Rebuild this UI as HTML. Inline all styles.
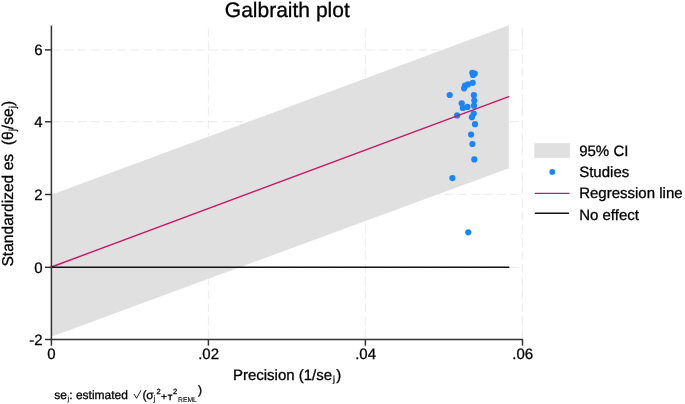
<!DOCTYPE html>
<html><head><meta charset="utf-8"><style>
html,body{margin:0;padding:0;background:#fff;width:685px;height:404px;overflow:hidden}
svg{display:block;will-change:transform;text-rendering:geometricPrecision}
text{font-family:"Liberation Sans",sans-serif;fill:#000;stroke:#000;stroke-width:0.3px}
.s{stroke-width:0.1px}
</style></head><body>
<svg width="685" height="404" viewBox="0 0 685 404">
<rect width="685" height="404" fill="#fff"/>
<!-- gridlines -->
<g stroke="#efefef" stroke-width="1.2" stroke-dasharray="9 4.1" fill="none">
<line x1="51.4" y1="49.9" x2="522.5" y2="49.9"/>
<line x1="51.4" y1="121.6" x2="522.5" y2="121.6"/>
<line x1="51.4" y1="194.4" x2="522.5" y2="194.4"/>
<line x1="51.4" y1="267.3" x2="522.5" y2="267.3"/>
<line x1="208.4" y1="28.2" x2="208.4" y2="339"/>
<line x1="365.4" y1="28.2" x2="365.4" y2="339"/>
<line x1="522.4" y1="28.2" x2="522.4" y2="339"/>
</g>
<!-- CI band -->
<polygon points="51.4,194.8 508.8,25.3 508.8,168.2 51.4,336.7" fill="#e0e0e0"/>
<!-- studies -->
<g fill="#1a85ff">
<circle cx="472.3" cy="72.8" r="3.1"/>
<circle cx="474.8" cy="73.5" r="3.1"/>
<circle cx="473" cy="75" r="3.1"/>
<circle cx="472.7" cy="82.8" r="3.1"/>
<circle cx="467.9" cy="84.4" r="3.1"/>
<circle cx="465" cy="85.5" r="3.1"/>
<circle cx="464.1" cy="88.3" r="3.1"/>
<circle cx="449.7" cy="95" r="3.1"/>
<circle cx="473.9" cy="95.2" r="3.1"/>
<circle cx="474.3" cy="100.6" r="3.1"/>
<circle cx="461.7" cy="103.3" r="3.1"/>
<circle cx="474" cy="105.7" r="3.1"/>
<circle cx="467.5" cy="106.9" r="3.1"/>
<circle cx="462.8" cy="107.9" r="3.1"/>
<circle cx="473.7" cy="113.6" r="3.1"/>
<circle cx="457.1" cy="115.4" r="3.1"/>
<circle cx="471.9" cy="117.2" r="3.1"/>
<circle cx="475" cy="124.2" r="3.1"/>
<circle cx="471.1" cy="134.6" r="3.1"/>
<circle cx="472.4" cy="144" r="3.1"/>
<circle cx="474.3" cy="159.4" r="3.1"/>
<circle cx="452.4" cy="178.1" r="3.1"/>
<circle cx="468.3" cy="232.3" r="3.1"/>
</g>
<!-- regression line -->
<line x1="51.4" y1="267" x2="508.8" y2="96.7" stroke="#c41a62" stroke-width="1.4" stroke-linecap="round"/>
<!-- no effect -->
<line x1="51.4" y1="267.3" x2="508.8" y2="267.3" stroke="#111" stroke-width="1.5" stroke-linecap="round"/>
<!-- axes -->
<g stroke="#333" stroke-width="1.5" fill="none">
<line x1="51.4" y1="25.5" x2="51.4" y2="345.7"/>
<line x1="45" y1="339.4" x2="522.8" y2="339.4"/>
<line x1="45" y1="49.9" x2="51.4" y2="49.9"/>
<line x1="45" y1="121.8" x2="51.4" y2="121.8"/>
<line x1="45" y1="194.5" x2="51.4" y2="194.5"/>
<line x1="45" y1="267.3" x2="51.4" y2="267.3"/>
<line x1="208.4" y1="339.4" x2="208.4" y2="345.7"/>
<line x1="365.4" y1="339.4" x2="365.4" y2="345.7"/>
<line x1="522.5" y1="339.4" x2="522.5" y2="345.7"/>
</g>
<!-- y tick labels -->
<g font-size="15" text-anchor="end">
<text x="42.5" y="55">6</text>
<text x="42.5" y="127.1">4</text>
<text x="42.5" y="199.7">2</text>
<text x="42.5" y="272.5">0</text>
<text x="42.5" y="344.6">-2</text>
</g>
<!-- x tick labels -->
<g font-size="15" text-anchor="middle">
<text x="51.4" y="359">0</text>
<text x="208.6" y="359">.02</text>
<text x="365.6" y="359">.04</text>
<text x="522.8" y="359">.06</text>
</g>
<!-- title -->
<text x="287.3" y="16.5" font-size="21" text-anchor="middle">Galbraith plot</text>
<!-- x title -->
<text x="232.9" y="379.8" font-size="15">Precision (1/se<tspan font-size="8.6" dy="2.3" dx="0.8">j</tspan><tspan dy="-2.3" dx="1.3">)</tspan></text>
<!-- y title -->
<text transform="translate(12.8,266.6) rotate(-90)" font-size="15.6" xml:space="preserve">Standardized es  (θ<tspan font-size="10" dy="3">j</tspan><tspan dy="-3">/se</tspan><tspan font-size="10" dy="3">j</tspan><tspan dy="-3">)</tspan></text>
<!-- footnote -->
<g font-size="12">
<text x="54.2" y="398.8">se</text>
<text class="s" x="67.4" y="400.6" font-size="7.5">j</text>
<text x="69.3" y="398.8">:</text>
<text x="75.9" y="398.8">estimated</text>
<path d="M133.9,393.9 L136.6,398.3 L141,390.2" stroke="#1a1a1a" stroke-width="0.95" fill="none"/>
<text x="142.5" y="399">(</text>
<text x="146.2" y="398.9">σ</text>
<text class="s" x="153.6" y="400.9" font-size="8">j</text>
<text x="156.4" y="393.5" font-size="7.5">2</text>
<text x="160.9" y="399.6" font-size="10.2">+</text>
<path d="M167.6,395.1 L172.4,395.1 M170.1,395.1 L170.1,400.3" stroke="#000" stroke-width="1.3" fill="none"/>
<text x="172.9" y="394.2" font-size="7.5">2</text>
<text class="s" x="178" y="402.1" font-size="6.8">REML</text>
<text x="198.1" y="394.4">)</text>
</g>
<!-- legend -->
<rect x="534.3" y="143.2" width="35.6" height="14.7" fill="#e0e0e0"/>
<circle cx="552.3" cy="171.9" r="2.9" fill="#1a85ff"/>
<line x1="534.8" y1="193.4" x2="569.4" y2="193.4" stroke="#c41a62" stroke-width="1.25"/>
<line x1="534.8" y1="213.2" x2="568.9" y2="213.2" stroke="#111" stroke-width="1.5"/>
<g font-size="15">
<text x="579.2" y="156">95% CI</text>
<text x="579.2" y="177">Studies</text>
<text x="579.2" y="198.1">Regression line</text>
<text x="579.2" y="219.5">No effect</text>
</g>
</svg>
</body></html>
